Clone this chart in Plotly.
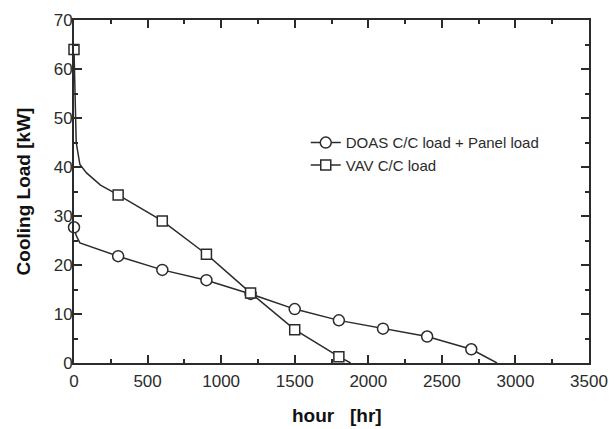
import plotly.graph_objects as go

# ── data ──────────────────────────────────────────────────────────────────
doas_hours = [0, 15, 40, 300, 600, 900, 1200, 1500, 1800, 2100, 2400, 2700, 2875]
doas_load = [27.7, 26.0, 24.5, 21.8, 19.0, 16.9, 14.1, 11.0, 8.7, 7.0, 5.4, 2.8, 0.0]

vav_hours = [0, 8, 15, 40, 85, 180, 300, 600, 900, 1200, 1500, 1800, 1880]
vav_load = [64.0, 52.0, 45.0, 40.5, 38.8, 36.3, 34.3, 29.0, 22.2, 14.3, 6.8, 1.3, 0.0]

series_names = ["DOAS C/C load + Panel load", "VAV C/C load"]

MARK_EVERY = 300  # markers drawn at every 300 hr

FONT = "Liberation Sans, Arial, sans-serif"
INK = "#2b2b2b"


def marked(hours, load):
    pts = [(h, v) for h, v in zip(hours, load) if h % MARK_EVERY == 0]
    return [p[0] for p in pts], [p[1] for p in pts]


fig = go.Figure()
for name, hours, load, sym, size in [
    (series_names[0], doas_hours, doas_load, "circle", 11),
    (series_names[1], vav_hours, vav_load, "square", 10),
]:
    mk = dict(symbol=sym, size=size, color="white", opacity=1,
              line=dict(color=INK, width=1.5))
    # continuous curve
    fig.add_trace(go.Scatter(
        x=hours, y=load, mode="lines", legendgroup=name, showlegend=False,
        line=dict(color=INK, width=1.5), hoverinfo="skip",
    ))
    # open markers every 300 hr
    mx, my = marked(hours, load)
    fig.add_trace(go.Scatter(
        x=mx, y=my, mode="markers", legendgroup=name, showlegend=False,
        marker=mk, cliponaxis=False,
    ))
    # legend entry (line + marker)
    fig.add_trace(go.Scatter(
        x=[None], y=[None], mode="lines+markers", name=name, legendgroup=name,
        line=dict(color=INK, width=1.5), marker=mk,
    ))

axis_common = dict(
    showline=True, linecolor=INK, linewidth=2,
    mirror="allticks", ticks="inside", ticklen=8, tickwidth=1.5, tickcolor=INK,
    showgrid=False, zeroline=False, automargin=False,
    tickfont=dict(family=FONT, size=17, color=INK),
)

fig.update_layout(
    width=614, height=429,
    paper_bgcolor="white", plot_bgcolor="white",
    margin=dict(l=74, r=25, t=20, b=66),
    font=dict(family=FONT, color=INK),
    xaxis=dict(
        range=[0, 3500], dtick=500,
        minor=dict(dtick=250, ticks="inside", ticklen=4, tickwidth=1.5, tickcolor=INK),
        ticklabelstandoff=2,
        title=dict(text="<b>\u00a0\u00a0hour\u00a0\u00a0\u00a0[hr]</b>",
                   font=dict(family=FONT, size=19, color="#111"), standoff=18),
        **axis_common,
    ),
    yaxis=dict(
        range=[0, 70], dtick=10,
        minor=dict(dtick=5, ticks="inside", ticklen=4, tickwidth=1.5, tickcolor=INK),
        ticklabelstandoff=-4,
        title=dict(text="<b>Cooling Load [kW]</b>",
                   font=dict(family=FONT, size=19, color="#111"), standoff=18),
        **axis_common,
    ),
    legend=dict(
        x=0.45, y=0.69, xanchor="left", yanchor="top",
        bgcolor="rgba(0,0,0,0)",
        font=dict(family=FONT, size=15, color=INK),
        tracegroupgap=0,
    ),
)

fig.write_html("out.html", config={"displayModeBar": False},
               post_script="document.body.style.margin='0';")
